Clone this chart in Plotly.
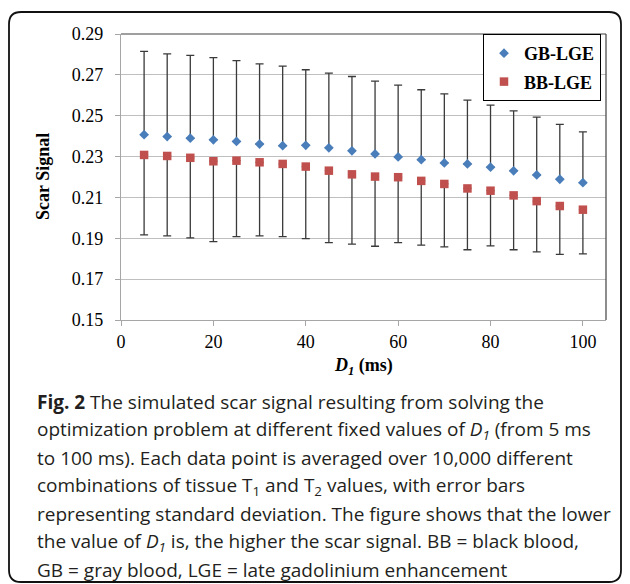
import plotly.graph_objects as go

# ---- data ----
d1_ms = [5, 10, 15, 20, 25, 30, 35, 40, 45, 50, 55, 60, 65, 70, 75, 80, 85, 90, 95, 100]
gb_lge = [0.2407, 0.2398, 0.2390, 0.2382, 0.2374, 0.2361, 0.2353, 0.2355, 0.2343, 0.2328,
          0.2313, 0.2298, 0.2285, 0.2269, 0.2264, 0.2248, 0.2230, 0.2210, 0.2189, 0.2172]
gb_sd = [0.0408, 0.0405, 0.0405, 0.0402, 0.0396, 0.0393, 0.0390, 0.0370, 0.0365, 0.0364,
         0.0356, 0.0352, 0.0342, 0.0338, 0.0312, 0.0304, 0.0294, 0.0283, 0.0269, 0.0249]
bb_lge = [0.2308, 0.2303, 0.2294, 0.2277, 0.2280, 0.2272, 0.2264, 0.2251, 0.2231, 0.2213,
          0.2202, 0.2199, 0.2181, 0.2166, 0.2144, 0.2133, 0.2110, 0.2082, 0.2058, 0.2040]
bb_sd = [0.0391, 0.0391, 0.0392, 0.0393, 0.0372, 0.0360, 0.0356, 0.0353, 0.0352, 0.0342,
         0.0341, 0.0320, 0.0314, 0.0308, 0.0300, 0.0270, 0.0266, 0.0249, 0.0237, 0.0216]
y_ticks = [0.15, 0.17, 0.19, 0.21, 0.23, 0.25, 0.27, 0.29]
x_ticks = [0, 20, 40, 60, 80, 100]
caption_lines = [
    "<b>Fig. 2</b> The simulated scar signal resulting from solving the",
    "optimization problem at different fixed values of <i>D<sub>1</sub></i> (from 5 ms",
    "to 100 ms). Each data point is averaged over 10,000 different",
    "combinations of tissue T<sub>1</sub> and T<sub>2</sub> values, with error bars",
    "representing standard deviation. The figure shows that the lower",
    "the value of <i>D<sub>1</sub></i> is, the higher the scar signal. BB = black blood,",
    "GB = gray blood, LGE = late gadolinium enhancement",
]

# ---- layout geometry (pixels) ----
FW, FH = 630, 584
L, R, T, B = 121, 24, 34, 264
PW, PH = FW - L - R, FH - T - B


def px(xp):
    return (xp - L) / PW


def py(yp):
    return (T + PH - yp) / PH


SERIF = "Liberation Serif"
SANS = "Open Sans"

fig = go.Figure()
fig.add_trace(go.Scatter(
    x=d1_ms, y=gb_lge, mode="markers", name="GB-LGE", legendgroup="gb",
    marker=dict(symbol="diamond", size=7.5, color="#4a7ebb"),
    error_y=dict(type="data", array=gb_sd, arrayminus=[0] * len(gb_sd), symmetric=False,
                 color="#3a3a3a", thickness=1.3, width=4),
))
fig.add_trace(go.Scatter(
    x=d1_ms, y=bb_lge, mode="markers", name="BB-LGE", legendgroup="bb",
    marker=dict(symbol="square", size=8.5, color="#c0504d"),
    error_y=dict(type="data", array=[0] * len(bb_sd), arrayminus=bb_sd, symmetric=False,
                 color="#3a3a3a", thickness=1.3, width=4),
))

shapes = []
# top & right plot border (dark)
shapes.append(dict(type="line", xref="paper", yref="paper", x0=0, x1=1, y0=1, y1=1,
                   line=dict(color="#404040", width=1.2)))
shapes.append(dict(type="line", xref="paper", yref="paper", x0=1, x1=1, y0=0, y1=1,
                   line=dict(color="#404040", width=1.2)))
# outer rounded frame
x0, x1, y0, y1, r = 9, 621, 12, 582, 12
path = (f"M {px(x0 + r)} {py(y0)} L {px(x1 - r)} {py(y0)} Q {px(x1)} {py(y0)} {px(x1)} {py(y0 + r)} "
        f"L {px(x1)} {py(y1 - r)} Q {px(x1)} {py(y1)} {px(x1 - r)} {py(y1)} "
        f"L {px(x0 + r)} {py(y1)} Q {px(x0)} {py(y1)} {px(x0)} {py(y1 - r)} "
        f"L {px(x0)} {py(y0 + r)} Q {px(x0)} {py(y0)} {px(x0 + r)} {py(y0)} Z")
shapes.append(dict(type="path", xref="paper", yref="paper", path=path,
                   line=dict(color="#111111", width=1.8)))

annotations = []
annotations.append(dict(xref="paper", yref="paper", x=px(43), y=py(177), text="<b>Scar Signal</b>",
                        textangle=-90, showarrow=False, font=dict(family=SERIF, size=18, color="black"),
                        xanchor="center", yanchor="middle"))
annotations.append(dict(xref="paper", yref="paper", x=px(363), y=py(366),
                        text="<b><i>D<sub>1</sub></i> (ms)</b>",
                        showarrow=False, font=dict(family=SERIF, size=18, color="black"),
                        xanchor="center", yanchor="middle"))
line_y0, line_dy = 402, 28.0
for i, t in enumerate(caption_lines):
    annotations.append(dict(xref="paper", yref="paper", x=px(35), y=py(line_y0 + i * line_dy),
                            text=t, showarrow=False, xanchor="left", yanchor="middle",
                            font=dict(family=SANS, size=19, color="#231f20")))

fig.update_layout(
    width=FW, height=FH,
    margin=dict(l=L, r=R, t=T, b=B),
    paper_bgcolor="white", plot_bgcolor="white",
    showlegend=True,
    legend=dict(x=px(601), y=1, xanchor="right", yanchor="top",
                bgcolor="white", bordercolor="black", borderwidth=1,
                font=dict(family=SERIF, size=18, color="black", weight="bold"),
                traceorder="grouped", tracegroupgap=2, itemwidth=30),
    xaxis=dict(range=[0, 105], tickvals=x_ticks, ticks="outside", ticklen=5, tickcolor="#a6a6a6",
               showgrid=False, zeroline=False, showline=True, linecolor="#a6a6a6", linewidth=1.2,
               tickfont=dict(family=SERIF, size=18, color="black")),
    yaxis=dict(range=[0.15, 0.29], tickvals=y_ticks, tickformat=".2f", ticks="outside", ticklen=5,
               tickcolor="#a6a6a6", showgrid=True, gridcolor="#bfbfbf", gridwidth=1,
               zeroline=False, showline=True, linecolor="#a6a6a6", linewidth=1.2,
               ticklabelstandoff=8,
               tickfont=dict(family=SERIF, size=18, color="black")),
    shapes=shapes,
    annotations=annotations,
)

fig.write_html("out.html")
